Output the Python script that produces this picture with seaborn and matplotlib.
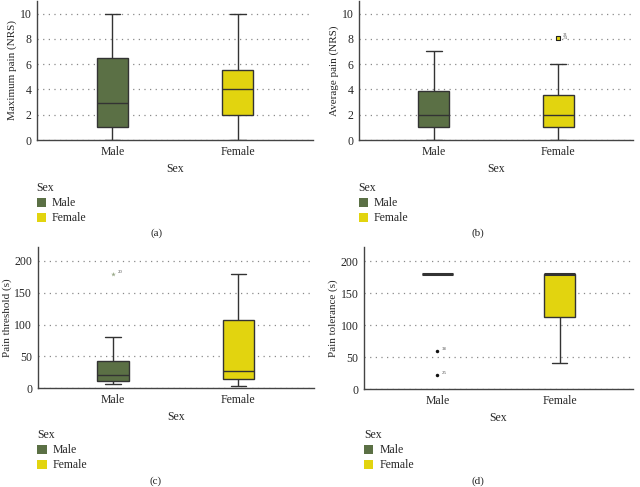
import matplotlib
matplotlib.use("Agg")
import matplotlib.pyplot as plt
import matplotlib.patches as mpatches
import seaborn as sns
import pandas as pd

sns.set_style("white")
plt.rcParams['font.family'] = ['Liberation Serif', 'DejaVu Serif']

categories = ["Male", "Female"]
colors = {"Male": "#5b7045", "Female": "#e2d40f"}

# five-number summaries: [min whisker, Q1, median, Q3, max whisker]
max_pain_male = [0, 1, 2.9, 6.5, 10]
max_pain_female = [0, 2, 4, 5.5, 10]
avg_pain_male = [0, 1, 2, 3.9, 7.05]
avg_pain_female = [0, 1.05, 2, 3.6, 6.05]
threshold_male = [6, 12, 21, 43, 80]
threshold_female = [3, 14, 27, 107, 180]
tolerance_male = [180, 180, 180, 180, 180]
tolerance_female = [40, 113, 180, 180, 180]

# outliers: (category, value, label)
avg_pain_outliers = [("Female", 8.05, "31\n74")]
threshold_outliers = [("Male", 180, "20")]
tolerance_outliers = [("Male", 60, "38"), ("Male", 22, "25")]

ylabels = ["Maximum pain (NRS)", "Average pain (NRS)", "Pain threshold (s)", "Pain tolerance (s)"]
panel_tags = ["(a)", "(b)", "(c)", "(d)"]

fig = plt.figure(figsize=(6.4, 4.87), dpi=100)
rects = [
    [0.058, 0.7125, 0.431, 0.2855],
    [0.561, 0.7125, 0.428, 0.2855],
    [0.059, 0.203, 0.431, 0.290],
    [0.569, 0.201, 0.420, 0.292],
]
panels = [
    (max_pain_male, max_pain_female, [], (0, 11), [0, 2, 4, 6, 8, 10], None, 1.0),
    (avg_pain_male, avg_pain_female, avg_pain_outliers, (0, 11), [0, 2, 4, 6, 8, 10], "square", 1.0),
    (threshold_male, threshold_female, threshold_outliers, (0, 222), [0, 50, 100, 150, 200], "star", 1.0),
    (tolerance_male, tolerance_female, tolerance_outliers, (0, 222), [0, 50, 100, 150, 200], "dot", 2.2),
]
legend_pos = [(0.050, 0.635), (0.553, 0.635), (0.051, 0.128), (0.561, 0.128)]
tag_pos = [(0.245, 0.512), (0.747, 0.512), (0.243, 0.003), (0.747, 0.003)]

for i, (m, f, outl, ylim, yt, mstyle, mlw) in enumerate(panels):
    ax = fig.add_axes(rects[i])
    df = pd.DataFrame({"Sex": ["Male"] * len(m) + ["Female"] * len(f), "val": m + f})
    sns.boxplot(data=df, x="Sex", y="val", hue="Sex", order=categories,
                palette=colors, saturation=1, whis=(0, 100), width=0.25,
                linecolor="#333333", linewidth=1.0, legend=False, ax=ax,
                fliersize=0, medianprops={"linewidth": mlw})
    if outl:
        od = pd.DataFrame({"Sex": [o[0] for o in outl], "val": [o[1] for o in outl]})
        if mstyle == "square":
            sns.stripplot(data=od, x="Sex", y="val", order=categories, jitter=False,
                          marker="s", size=3.5, color=colors["Female"], edgecolor="#222222",
                          linewidth=0.8, ax=ax, zorder=5)
        elif mstyle == "star":
            sns.stripplot(data=od, x="Sex", y="val", order=categories, jitter=False,
                          marker="*", size=3.5, color="#9aaa8a", linewidth=0, ax=ax, zorder=5)
        else:
            sns.stripplot(data=od, x="Sex", y="val", order=categories, jitter=False,
                          marker="o", size=2.5, color="#111111", linewidth=0, ax=ax, zorder=5)
        for cat, val, lab in outl:
            xpos = categories.index(cat)
            ax.text(xpos + 0.035, val + (ylim[1] * 0.012), lab, fontsize=3.5,
                    color="#555555", ha="left", va="center", linespacing=0.9)
    ax.set_xlim(-0.6, 1.6)
    ax.set_ylim(*ylim)
    ax.set_yticks(yt)
    ax.set_ylabel(ylabels[i], fontsize=8, labelpad=2)
    ax.set_xlabel("Sex", fontsize=8.5, labelpad=4)
    ax.tick_params(axis="both", length=0, labelsize=8.5, pad=4)
    ax.yaxis.grid(True, linestyle=(0, (1, 3.5)), color="#8a8a8a", linewidth=0.9)
    ax.xaxis.grid(False)
    ax.set_axisbelow(True)
    for s in ["top", "right"]:
        ax.spines[s].set_visible(False)
    for s in ["left", "bottom"]:
        ax.spines[s].set_color("#444444")
        ax.spines[s].set_linewidth(1.0)

    handles = [mpatches.Patch(facecolor=colors[c], edgecolor="none", label=c) for c in categories]
    fig.legend(handles=handles, title="Sex", loc="upper left",
               bbox_to_anchor=legend_pos[i], frameon=False, fontsize=8.5,
               title_fontsize=8.5, handlelength=0.8, handleheight=0.8,
               handletextpad=0.5, labelspacing=0.25, alignment="left",
               borderaxespad=0)
    fig.text(tag_pos[i][0], tag_pos[i][1], panel_tags[i], fontsize=8, ha="center",
             va="bottom")

fig.savefig("out.png", dpi=100)
